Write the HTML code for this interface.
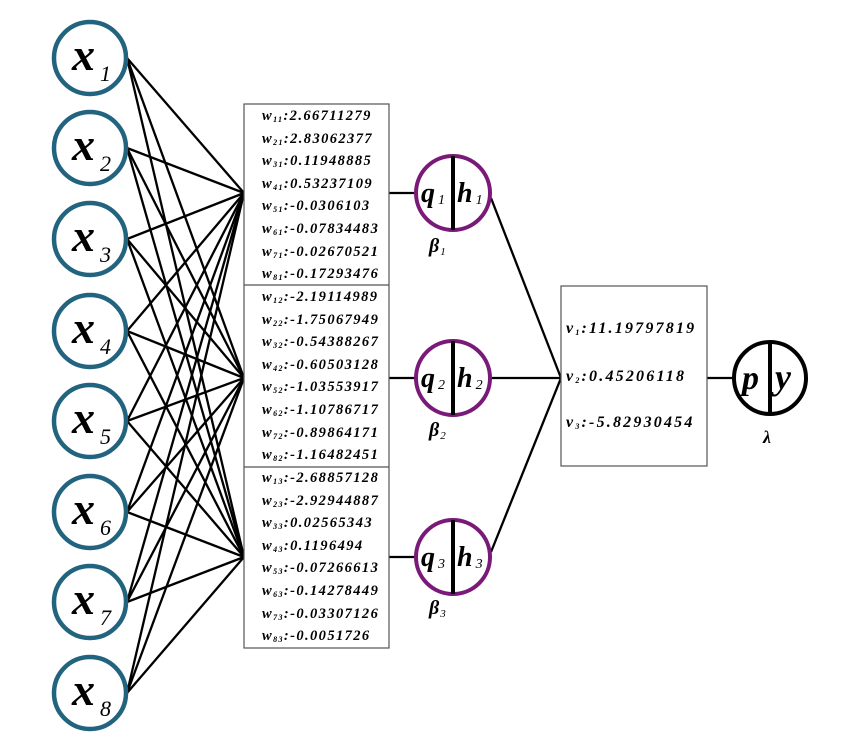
<!DOCTYPE html>
<html><head><meta charset="utf-8"><style>
html,body{margin:0;padding:0;background:#fff;}
svg{display:block;}
text{font-family:"Liberation Serif",serif;font-weight:bold;font-style:italic;fill:#000;}
</style></head><body>
<svg width="846" height="742" viewBox="0 0 846 742" xmlns="http://www.w3.org/2000/svg">
<g stroke="#000" stroke-width="2.3" fill="none">
<line x1="127" y1="58" x2="244" y2="193"/><line x1="127" y1="58" x2="244" y2="378"/><line x1="127" y1="58" x2="244" y2="557"/>
<line x1="127" y1="148" x2="244" y2="193"/><line x1="127" y1="148" x2="244" y2="378"/><line x1="127" y1="148" x2="244" y2="557"/>
<line x1="127" y1="239" x2="244" y2="193"/><line x1="127" y1="239" x2="244" y2="378"/><line x1="127" y1="239" x2="244" y2="557"/>
<line x1="127" y1="331" x2="244" y2="193"/><line x1="127" y1="331" x2="244" y2="378"/><line x1="127" y1="331" x2="244" y2="557"/>
<line x1="127" y1="421" x2="244" y2="193"/><line x1="127" y1="421" x2="244" y2="378"/><line x1="127" y1="421" x2="244" y2="557"/>
<line x1="127" y1="512" x2="244" y2="193"/><line x1="127" y1="512" x2="244" y2="378"/><line x1="127" y1="512" x2="244" y2="557"/>
<line x1="127" y1="602" x2="244" y2="193"/><line x1="127" y1="602" x2="244" y2="378"/><line x1="127" y1="602" x2="244" y2="557"/>
<line x1="127" y1="693" x2="244" y2="193"/><line x1="127" y1="693" x2="244" y2="378"/><line x1="127" y1="693" x2="244" y2="557"/>
<line x1="389" y1="193" x2="415" y2="193"/><line x1="389" y1="378" x2="415" y2="378"/><line x1="389" y1="557" x2="415" y2="557"/>
<line x1="491" y1="198" x2="561" y2="378"/><line x1="491" y1="378" x2="561" y2="378"/><line x1="491" y1="552" x2="561" y2="378"/>
<line x1="707" y1="378" x2="733" y2="378"/>
</g>
<g stroke="#555" stroke-width="1.2" fill="#fff">
<rect x="244" y="104" width="145" height="544"/>
<line x1="244" y1="285" x2="389" y2="285"/><line x1="244" y1="467" x2="389" y2="467"/>
<rect x="561" y="286" width="146" height="180"/>
</g>
<g stroke="#22637f" stroke-width="4.5" fill="#fff">
<circle cx="90" cy="58" r="36"/><circle cx="90" cy="148" r="36"/><circle cx="90" cy="239" r="36"/><circle cx="90" cy="331" r="36"/>
<circle cx="90" cy="421" r="36"/><circle cx="90" cy="512" r="36"/><circle cx="90" cy="602" r="36"/><circle cx="90" cy="693" r="36"/>
</g>
<g font-size="46">
<text x="72" y="70">x<tspan font-size="22" dx="5" dy="11" font-weight="normal">1</tspan></text>
<text x="72" y="160">x<tspan font-size="22" dx="5" dy="11" font-weight="normal">2</tspan></text>
<text x="72" y="251">x<tspan font-size="22" dx="5" dy="11" font-weight="normal">3</tspan></text>
<text x="72" y="343">x<tspan font-size="22" dx="5" dy="11" font-weight="normal">4</tspan></text>
<text x="72" y="433">x<tspan font-size="22" dx="5" dy="11" font-weight="normal">5</tspan></text>
<text x="72" y="524">x<tspan font-size="22" dx="5" dy="11" font-weight="normal">6</tspan></text>
<text x="72" y="614">x<tspan font-size="22" dx="5" dy="11" font-weight="normal">7</tspan></text>
<text x="72" y="705">x<tspan font-size="22" dx="5" dy="11" font-weight="normal">8</tspan></text>
</g>
<g stroke="#7a1a78" stroke-width="4" fill="#fff">
<circle cx="453" cy="193" r="37"/><circle cx="453" cy="378" r="37"/><circle cx="453" cy="557" r="37"/>
</g>
<g stroke="#000" stroke-width="4">
<line x1="453" y1="156" x2="453" y2="230"/><line x1="453" y1="341" x2="453" y2="415"/><line x1="453" y1="520" x2="453" y2="594"/>
</g>
<circle cx="770" cy="378" r="36" stroke="#000" stroke-width="4" fill="#fff"/>
<line x1="770" y1="342" x2="770" y2="414" stroke="#000" stroke-width="4"/>
<g font-size="28">
<text x="421" y="202">q<tspan font-size="14" dx="3" dy="2" font-weight="normal">1</tspan></text><text x="457" y="202">h<tspan font-size="14" dx="3" dy="2" font-weight="normal">1</tspan></text>
<text x="421" y="387">q<tspan font-size="14" dx="3" dy="2" font-weight="normal">2</tspan></text><text x="457" y="387">h<tspan font-size="14" dx="3" dy="2" font-weight="normal">2</tspan></text>
<text x="421" y="566">q<tspan font-size="14" dx="3" dy="2" font-weight="normal">3</tspan></text><text x="457" y="566">h<tspan font-size="14" dx="3" dy="2" font-weight="normal">3</tspan></text>
<text x="742" y="389" font-size="34">p</text><text x="775" y="389" font-size="36">y</text>
</g>
<g font-size="20">
<text x="429" y="252">β<tspan font-size="11" dx="1" dy="3" font-weight="normal">1</tspan></text>
<text x="429" y="436">β<tspan font-size="11" dx="1" dy="3" font-weight="normal">2</tspan></text>
<text x="429" y="614">β<tspan font-size="11" dx="1" dy="3" font-weight="normal">3</tspan></text>
<text x="763" y="443" font-size="18">λ</text>
</g>
<g font-size="14.5" letter-spacing="1.4">
<text x="262" y="120">w<tspan font-size="8" dy="2">11</tspan><tspan dy="-2">:2.66711279</tspan></text>
<text x="262" y="143">w<tspan font-size="8" dy="2">21</tspan><tspan dy="-2">:2.83062377</tspan></text>
<text x="262" y="165">w<tspan font-size="8" dy="2">31</tspan><tspan dy="-2">:0.11948885</tspan></text>
<text x="262" y="188">w<tspan font-size="8" dy="2">41</tspan><tspan dy="-2">:0.53237109</tspan></text>
<text x="262" y="210">w<tspan font-size="8" dy="2">51</tspan><tspan dy="-2">:-0.0306103</tspan></text>
<text x="262" y="233">w<tspan font-size="8" dy="2">61</tspan><tspan dy="-2">:-0.07834483</tspan></text>
<text x="262" y="256">w<tspan font-size="8" dy="2">71</tspan><tspan dy="-2">:-0.02670521</tspan></text>
<text x="262" y="278">w<tspan font-size="8" dy="2">81</tspan><tspan dy="-2">:-0.17293476</tspan></text>
<text x="262" y="301">w<tspan font-size="8" dy="2">12</tspan><tspan dy="-2">:-2.19114989</tspan></text>
<text x="262" y="324">w<tspan font-size="8" dy="2">22</tspan><tspan dy="-2">:-1.75067949</tspan></text>
<text x="262" y="346">w<tspan font-size="8" dy="2">32</tspan><tspan dy="-2">:-0.54388267</tspan></text>
<text x="262" y="369">w<tspan font-size="8" dy="2">42</tspan><tspan dy="-2">:-0.60503128</tspan></text>
<text x="262" y="391">w<tspan font-size="8" dy="2">52</tspan><tspan dy="-2">:-1.03553917</tspan></text>
<text x="262" y="414">w<tspan font-size="8" dy="2">62</tspan><tspan dy="-2">:-1.10786717</tspan></text>
<text x="262" y="437">w<tspan font-size="8" dy="2">72</tspan><tspan dy="-2">:-0.89864171</tspan></text>
<text x="262" y="459">w<tspan font-size="8" dy="2">82</tspan><tspan dy="-2">:-1.16482451</tspan></text>
<text x="262" y="482">w<tspan font-size="8" dy="2">13</tspan><tspan dy="-2">:-2.68857128</tspan></text>
<text x="262" y="505">w<tspan font-size="8" dy="2">23</tspan><tspan dy="-2">:-2.92944887</tspan></text>
<text x="262" y="527">w<tspan font-size="8" dy="2">33</tspan><tspan dy="-2">:0.02565343</tspan></text>
<text x="262" y="550">w<tspan font-size="8" dy="2">43</tspan><tspan dy="-2">:0.1196494</tspan></text>
<text x="262" y="572">w<tspan font-size="8" dy="2">53</tspan><tspan dy="-2">:-0.07266613</tspan></text>
<text x="262" y="595">w<tspan font-size="8" dy="2">63</tspan><tspan dy="-2">:-0.14278449</tspan></text>
<text x="262" y="618">w<tspan font-size="8" dy="2">73</tspan><tspan dy="-2">:-0.03307126</tspan></text>
<text x="262" y="640">w<tspan font-size="8" dy="2">83</tspan><tspan dy="-2">:-0.0051726</tspan></text>
</g>
<g font-size="16" letter-spacing="2.2">
<text x="566" y="333">v<tspan font-size="8" dy="2">1</tspan><tspan dy="-2">:11.19797819</tspan></text>
<text x="566" y="381">v<tspan font-size="8" dy="2">2</tspan><tspan dy="-2">:0.45206118</tspan></text>
<text x="566" y="427">v<tspan font-size="8" dy="2">3</tspan><tspan dy="-2">:-5.82930454</tspan></text>
</g>
</svg>
</body></html>
